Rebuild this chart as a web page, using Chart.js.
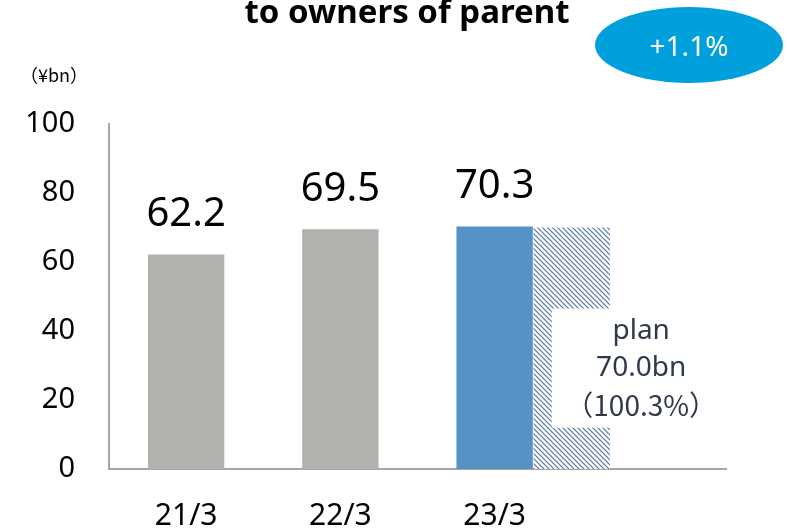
<!DOCTYPE html>
<html>
<head>
<meta charset="utf-8">
<script src="https://cdn.jsdelivr.net/npm/chart.js@4.4.1/dist/chart.umd.min.js"></script>
<style>
  html, body { margin: 0; padding: 0; background: #fff; }
  #wrap { position: relative; width: 787px; height: 530px; }
</style>
</head>
<body>
<div id="wrap"><canvas id="chart-net-income"></canvas></div>
<script>
// net income attributable to owners of parent (¥bn)
var categories = ['21/3', '22/3', '23/3'];
var actualValues = [62.2, 69.5, 70.3];
var planValue = 70.0;
var planLines = ['plan', planValue.toFixed(1) + 'bn', '（100.3%）'];
var yTicks = [0, 20, 40, 60, 80, 100];
var titleText = 'to owners of parent';
var growthText = '+1.1%';
var unitText = '（¥bn）';

(function(){
  var GRAY = '#b1b1ad', BLUE = '#5691c8', AXIS = '#a6a6a6';
  var FONT = '"Noto Sans", sans-serif';

  var canvas = document.getElementById('chart-net-income');
  var ctx = canvas.getContext('2d');

  // diagonal hatch for the plan bar
  var tile = document.createElement('canvas'); tile.width = 5; tile.height = 5;
  var tg = tile.getContext('2d');
  tg.fillStyle = '#fff'; tg.fillRect(0, 0, 5, 5);
  tg.strokeStyle = '#4f74a6'; tg.lineWidth = 1.2;
  tg.beginPath();
  tg.moveTo(-1, -1); tg.lineTo(6, 6);
  tg.moveTo(-1, 4); tg.lineTo(1, 6);
  tg.moveTo(4, -1); tg.lineTo(6, 1);
  tg.stroke();
  var hatch = ctx.createPattern(tile, 'repeat');

  var lastIdx = categories.length - 1;
  var actualData = actualValues.map(function(v, i){ return { x: i, y: v }; });
  var planData = [{ x: lastIdx + 0.5, y: planValue }];

  var annotations = {
    id: 'annotations',
    afterDatasetsDraw: function(chart) {
      var c = chart.ctx, xs = chart.scales.x, ys = chart.scales.y;
      c.save();
      // value labels above the result bars
      c.fillStyle = '#000'; c.font = '40px ' + FONT;
      c.textAlign = 'center'; c.textBaseline = 'alphabetic';
      chart.getDatasetMeta(0).data.forEach(function(bar, i){
        c.fillText(actualValues[i].toFixed(1), bar.x, bar.y - 28);
      });
      // plan callout box over the hatched bar
      var bx0 = xs.getPixelForValue(lastIdx + 0.37), bx1 = xs.getPixelForValue(lastIdx + 1.4);
      var by0 = ys.getPixelForValue(46.5), by1 = ys.getPixelForValue(12);
      c.fillStyle = '#fff'; c.fillRect(bx0, by0, bx1 - bx0, by1 - by0);
      var cx = xs.getPixelForValue(lastIdx + 0.95);
      c.fillStyle = '#2f3a48'; c.font = '28px ' + FONT; c.textBaseline = 'middle';
      planLines.forEach(function(t, i){
        if (i === 2) c.font = '28px "Noto Sans CJK JP", ' + FONT;
        c.fillText(t, cx, (by0 + by1) / 2 + (i - 1) * 37.5);
      });
      c.restore();
    },
    afterDraw: function(chart) {
      var c = chart.ctx;
      c.save();
      c.fillStyle = '#000'; c.font = 'bold 33px ' + FONT;
      c.textAlign = 'center'; c.textBaseline = 'alphabetic';
      c.fillText(titleText, 407, 23);
      // growth badge
      c.fillStyle = '#00a0dc';
      c.beginPath(); c.ellipse(689, 45, 94, 38, 0, 0, Math.PI * 2); c.fill();
      c.fillStyle = '#fff'; c.font = '28px ' + FONT; c.textBaseline = 'middle';
      c.fillText(growthText, 689, 48);
      // unit
      c.fillStyle = '#000'; c.font = '18px "Noto Sans CJK JP", ' + FONT;
      c.textAlign = 'left';
      c.fillText(unitText, 20, 75);
      c.restore();
    }
  };

  new Chart(ctx, {
    type: 'bar',
    data: {
      datasets: [
        {
          label: 'result', data: actualData, grouped: false,
          backgroundColor: function(cx){ return cx.dataIndex === lastIdx ? BLUE : GRAY; },
          barPercentage: 0.99, categoryPercentage: 1
        },
        {
          label: 'plan', data: planData, grouped: false,
          backgroundColor: hatch,
          barPercentage: 0.99, categoryPercentage: 1
        }
      ]
    },
    options: {
      responsive: true, maintainAspectRatio: false, animation: false,
      layout: { padding: { top: 124, right: 61, left: 0, bottom: 0 } },
      plugins: { legend: { display: false }, tooltip: { enabled: false } },
      scales: {
        x: {
          type: 'linear', min: -0.5, max: lastIdx + 1.5,
          offset: false, bounds: 'data',
          grid: { display: false, drawTicks: false },
          border: { color: AXIS, width: 2 },
          afterBuildTicks: function(ax){ ax.ticks = categories.map(function(c, i){ return { value: i }; }); },
          afterFit: function(ax){ ax.height = 61; },
          ticks: {
            padding: 29, color: '#000', font: { family: FONT, size: 30 },
            autoSkip: false, maxRotation: 0,
            callback: function(v){ return categories[v]; }
          }
        },
        y: {
          min: 0, max: 100,
          grid: { display: false, drawTicks: false },
          border: { color: AXIS, width: 2 },
          afterBuildTicks: function(ax){ ax.ticks = yTicks.map(function(v){ return { value: v }; }); },
          afterFit: function(ax){ ax.width = 109; },
          ticks: { padding: 34, color: '#000', font: { family: FONT, size: 29 } }
        }
      }
    },
    plugins: [annotations]
  });
})();
</script>
</body>
</html>
